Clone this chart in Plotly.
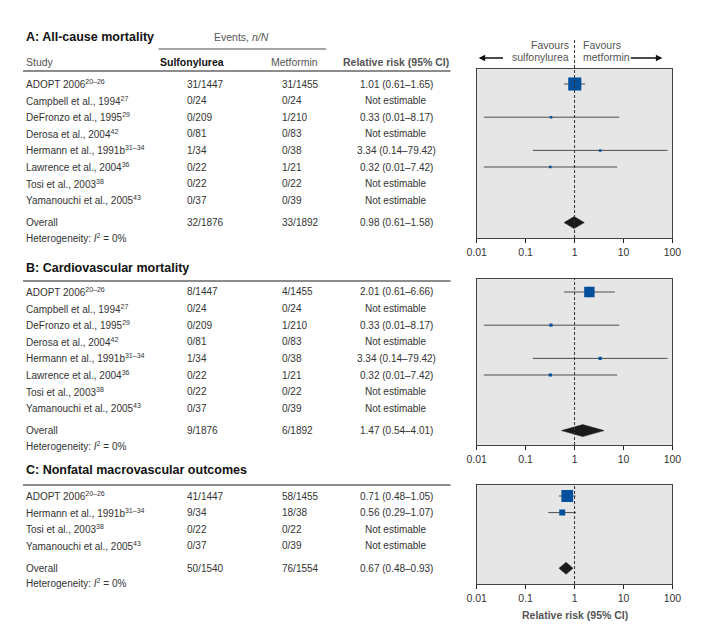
import math

import plotly.graph_objects as go

# the page shows the figure from x=20 with a slight horizontal squeeze (~0.969)
# and from y=8 unscaled; positions below are given in final picture pixels
X0, SX = 20, 0.969
Y0 = 8
W, H = 693, 624
FONT = "Arial, 'Liberation Sans', Helvetica, sans-serif"
BLUE = "#00509e"
INK = "#333333"
GREY = "#555555"

# --- Panel A: all-cause mortality ---
STUDIES_A = [
    "ADOPT 2006<sup>20–26</sup>",
    "Campbell et al., 1994<sup>27</sup>",
    "DeFronzo et al., 1995<sup>29</sup>",
    "Derosa et al., 2004<sup>42</sup>",
    "Hermann et al., 1991b<sup>31–34</sup>",
    "Lawrence et al., 2004<sup>36</sup>",
    "Tosi et al., 2003<sup>38</sup>",
    "Yamanouchi et al., 2005<sup>43</sup>",
]
SULF_A = ["31/1447", "0/24", "0/209", "0/81", "1/34", "0/22", "0/22", "0/37"]
METF_A = ["31/1455", "0/24", "1/210", "0/83", "0/38", "1/21", "0/22", "0/39"]
RR_A = [1.01, None, 0.33, None, 3.34, 0.32, None, None]
LO_A = [0.61, None, 0.014, None, 0.14, 0.014, None, None]
HI_A = [1.65, None, 8.17, None, 79.42, 7.42, None, None]
WEIGHT_A = [94, None, 1.5, None, 1.5, 1.5, None, None]
OVERALL_EVENTS_A = ["32/1876", "33/1892"]
OVERALL_RR_A = [0.98, 0.61, 1.58]

# --- Panel B: cardiovascular mortality ---
STUDIES_B = STUDIES_A
SULF_B = ["8/1447", "0/24", "0/209", "0/81", "1/34", "0/22", "0/22", "0/37"]
METF_B = ["4/1455", "0/24", "1/210", "0/83", "0/38", "1/21", "0/22", "0/39"]
RR_B = [2.01, None, 0.33, None, 3.34, 0.32, None, None]
LO_B = [0.61, None, 0.014, None, 0.14, 0.014, None, None]
HI_B = [6.66, None, 8.17, None, 79.42, 7.42, None, None]
WEIGHT_B = [56, None, 3, None, 3, 3, None, None]
OVERALL_EVENTS_B = ["9/1876", "6/1892"]
OVERALL_RR_B = [1.47, 0.54, 4.01]

# --- Panel C: nonfatal macrovascular outcomes ---
STUDIES_C = [
    "ADOPT 2006<sup>20–26</sup>",
    "Hermann et al., 1991b<sup>31–34</sup>",
    "Tosi et al., 2003<sup>38</sup>",
    "Yamanouchi et al., 2005<sup>43</sup>",
]
SULF_C = ["41/1447", "9/34", "0/22", "0/37"]
METF_C = ["58/1455", "18/38", "0/22", "0/39"]
RR_C = [0.71, 0.56, None, None]
LO_C = [0.48, 0.29, None, None]
HI_C = [1.05, 1.07, None, None]
WEIGHT_C = [74, 16, None, None]
OVERALL_EVENTS_C = ["50/1540", "76/1554"]
OVERALL_RR_C = [0.67, 0.48, 0.93]

TICK_VALS = [0.01, 0.1, 1, 10, 100]
TICK_TEXT = ["0.01", "0.1", "1", "10", "100"]

PITCH = 16.6          # row spacing in px
OVERALL_GAP = 0.35    # extra rows before the overall line
BOX_X = (477, 672)

fig = go.Figure()
annotations = []
shapes = []


def px(x):
    return (x - X0) / (SX * W)


def py(y):
    return 1 - (y - Y0) / H


def txt(x, y, s, anchor="left", size=10, color=INK, bold=False):
    if bold:
        s = f"<b>{s}</b>"
    annotations.append(
        dict(
            x=px(x), y=py(y), xref="paper", yref="paper", text=s,
            showarrow=False, xanchor=anchor, yanchor="middle",
            font={"size": size, "color": color, "family": FONT},
        )
    )


def hline(y, x0, x1, color="#777777", width=1.5):
    shapes.append(
        dict(type="line", xref="paper", yref="paper", x0=px(x0), x1=px(x1),
             y0=py(y), y1=py(y), line={"color": color, "width": width})
    )


def rr_label(rr, lo, hi):
    if rr is None:
        return "Not estimable"
    return f"{rr:.2f} ({lo:.2f}–{hi:.2f})"


def add_panel(idx, title, title_y, line_y, first, top, bottom, studies, sulf,
              metf, rr, lo, hi, weight, ov_events, ov_rr):
    xa = "x" if idx == 1 else f"x{idx}"
    ya = "y" if idx == 1 else f"y{idx}"
    n = len(studies)

    txt(26, title_y, title, size=12.5, color="#111111", bold=True)
    hline(line_y, 25, 451, color="#666666")

    # table text
    for i in range(n):
        y = first + PITCH * i
        txt(26, y, studies[i])
        txt(186, y, sulf[i])
        txt(281, y, metf[i])
        txt(397, y, rr_label(rr[i], lo[i], hi[i]), anchor="center")
    y_ov = first + PITCH * (n + OVERALL_GAP)
    txt(26, y_ov, "Overall")
    txt(186, y_ov, ov_events[0])
    txt(281, y_ov, ov_events[1])
    txt(397, y_ov, rr_label(*ov_rr), anchor="center")
    txt(26, y_ov + 15, "Heterogeneity: <i>I</i><sup>2</sup> = 0%")

    # confidence intervals
    cx, cy = [], []
    for i in range(n):
        if rr[i] is None:
            continue
        cx += [lo[i], hi[i], None]
        cy += [i, i, None]
    fig.add_trace(go.Scatter(x=cx, y=cy, mode="lines", xaxis=xa, yaxis=ya,
                             line={"color": "#4d4d4d", "width": 1},
                             hoverinfo="skip"))

    # study estimates, square area from study weight
    mx = [rr[i] for i in range(n) if rr[i] is not None]
    my = [i for i in range(n) if rr[i] is not None]
    ms = [1 + 12.5 * math.sqrt(weight[i] / 100) for i in range(n) if rr[i] is not None]
    fig.add_trace(go.Scatter(x=mx, y=my, mode="markers", xaxis=xa, yaxis=ya,
                             marker={"symbol": "square", "size": ms, "opacity": 1,
                                     "color": BLUE, "line": {"width": 0}}))

    # pooled diamond
    r = n + OVERALL_GAP
    h = 6 / PITCH
    est, dlo, dhi = ov_rr
    fig.add_trace(go.Scatter(x=[dlo, est, dhi, est, dlo],
                             y=[r, r - h, r, r + h, r],
                             mode="lines", fill="toself", xaxis=xa, yaxis=ya,
                             fillcolor="#1a1a1a",
                             line={"color": "#1a1a1a", "width": 0.5}))

    # line of no effect
    dash_top = 39 if idx == 1 else top
    shapes.append(dict(type="line", xref=xa, yref="paper", x0=1, x1=1,
                       y0=py(bottom), y1=py(dash_top),
                       line={"color": "#333333", "width": 1, "dash": "3px,2px"}))

    fig.update_layout({
        ("xaxis" if idx == 1 else f"xaxis{idx}"): dict(
            domain=[px(BOX_X[0]), px(BOX_X[1])], anchor=ya, type="log",
            range=[-2, 2], tickvals=TICK_VALS, ticktext=TICK_TEXT,
            ticks="outside", ticklen=4, tickcolor="#222222",
            showline=True, linecolor="#444444", linewidth=1, mirror=True,
            showgrid=False, zeroline=False,
            tickfont={"size": 10.5, "color": INK, "family": FONT},
        ),
        ("yaxis" if idx == 1 else f"yaxis{idx}"): dict(
            domain=[py(bottom), py(top)], anchor=xa,
            range=[(bottom - first) / PITCH, (top - first) / PITCH],
            showticklabels=False, ticks="", showgrid=False, zeroline=False,
            showline=True, linecolor="#444444", linewidth=1, mirror=True,
        ),
    })


# column headers (panel A only)
txt(243, 37, "Events, <i>n/N</i>", anchor="center", size=10.5, color=GREY)
hline(49, 160, 327, color="#888888")
txt(26, 62, "Study", size=10.5, color=GREY)
txt(193, 62, "Sulfonylurea", anchor="center", size=10.5, color="#111111", bold=True)
txt(295, 62, "Metformin", anchor="center", size=10.5, color=GREY)
txt(397, 62, "Relative risk (95% CI)", anchor="center", size=10.5, color=GREY, bold=True)

# favours labels and arrows
txt(571, 45, "Favours", anchor="right", size=10.5, color=GREY)
txt(571, 57, "sulfonylurea", anchor="right", size=10.5, color=GREY)
txt(581, 45, "Favours", size=10.5, color=GREY)
txt(581, 57, "metformin", size=10.5, color=GREY)
for head, tail in [(479, 504), (662, 630)]:
    annotations.append(dict(
        x=px(head), y=py(58), xref="paper", yref="paper", text="",
        showarrow=True, ax=(tail - head) / SX, ay=0, arrowhead=2, arrowsize=1,
        arrowwidth=1.3, arrowcolor="#111111",
    ))

add_panel(1, "A: All-cause mortality", 37, 71, 84, 69, 238, STUDIES_A, SULF_A,
          METF_A, RR_A, LO_A, HI_A, WEIGHT_A, OVERALL_EVENTS_A, OVERALL_RR_A)
add_panel(2, "B: Cardiovascular mortality", 268, 281, 292, 279, 445, STUDIES_B,
          SULF_B, METF_B, RR_B, LO_B, HI_B, WEIGHT_B, OVERALL_EVENTS_B, OVERALL_RR_B)
add_panel(3, "C: Nonfatal macrovascular outcomes", 470, 485, 496, 485, 584,
          STUDIES_C, SULF_C, METF_C, RR_C, LO_C, HI_C, WEIGHT_C,
          OVERALL_EVENTS_C, OVERALL_RR_C)

txt(575, 615, "Relative risk (95% CI)", anchor="center", size=10.5, color=GREY, bold=True)

fig.update_layout(
    width=W,
    height=H,
    autosize=False,
    margin={"l": 0, "r": 0, "t": 0, "b": 0},
    paper_bgcolor="white",
    plot_bgcolor="#e6e6e6",
    showlegend=False,
    annotations=annotations,
    shapes=shapes,
    font={"family": FONT, "color": INK},
)

fig.write_html("out.html")
